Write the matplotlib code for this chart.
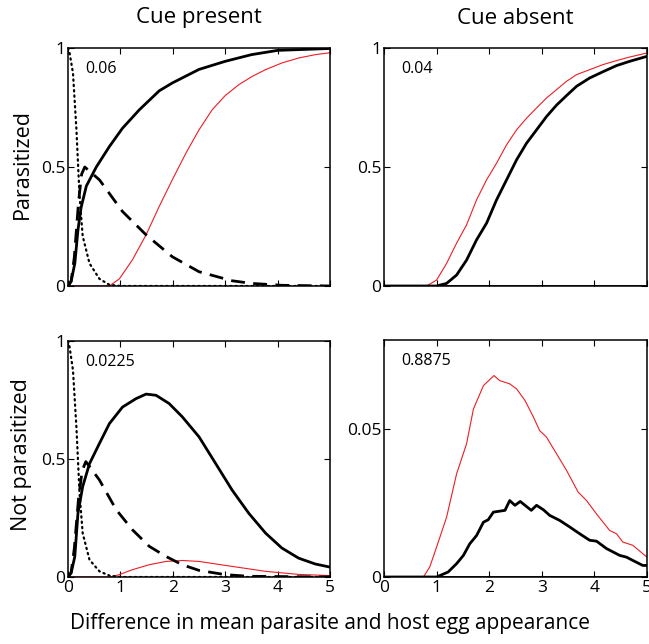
import matplotlib
matplotlib.use("Agg")
import matplotlib.pyplot as plt

plt.rcParams['font.family'] = ['Open Sans', 'DejaVu Sans']

col_titles = ["Cue present", "Cue absent"]
row_titles = ["Parasitized", "Not parasitized"]
xlabel = "Difference in mean parasite and host egg appearance"
panel_notes = ["0.06", "0.04", "0.0225", "0.8875"]

# ---- Cue present, Parasitized ----
tl_dot_x = [0, 0.03, 0.095, 0.16, 0.22, 0.28, 0.41, 0.6, 0.79, 1.0, 5.0]
tl_dot_y = [1.0, 0.98, 0.895, 0.66, 0.38, 0.21, 0.095, 0.03, 0.005, 0.0, 0.0]
tl_dash_x = [0, 0.06, 0.12, 0.2, 0.26, 0.32, 0.6, 1.04, 1.49, 1.99, 2.5, 3.13, 3.5, 4.08, 5.0]
tl_dash_y = [0, 0.02, 0.12, 0.35, 0.47, 0.50, 0.446, 0.313, 0.215, 0.123, 0.060, 0.022, 0.011, 0.003, 0.0]
tl_solid_x = [0, 0.06, 0.13, 0.19, 0.25, 0.35, 0.54, 0.79, 1.04, 1.36, 1.74, 1.99, 2.5, 3.0, 3.5, 4.0, 5.0]
tl_solid_y = [0, 0.02, 0.095, 0.235, 0.33, 0.42, 0.50, 0.586, 0.663, 0.74, 0.82, 0.853, 0.91, 0.944, 0.972, 0.99, 0.998]
tl_red_x = [0, 0.79, 0.98, 1.23, 1.49, 1.74, 1.99, 2.25, 2.5, 2.75, 3.0, 3.26, 3.51, 3.77, 4.08, 4.4, 4.72, 5.0]
tl_red_y = [0, 0.0, 0.03, 0.11, 0.215, 0.334, 0.446, 0.558, 0.656, 0.74, 0.80, 0.846, 0.88, 0.909, 0.937, 0.958, 0.972, 0.98]

# ---- Cue absent, Parasitized ----
tr_red_x = [0, 0.81, 1.0, 1.19, 1.38, 1.57, 1.76, 1.95, 2.14, 2.33, 2.52, 2.71, 2.9, 3.09, 3.28, 3.47, 3.66, 3.91, 4.16, 4.42, 4.67, 5.0]
tr_red_y = [0, 0.0, 0.025, 0.095, 0.18, 0.257, 0.362, 0.446, 0.516, 0.593, 0.656, 0.705, 0.748, 0.79, 0.825, 0.86, 0.888, 0.909, 0.93, 0.947, 0.962, 0.979]
tr_solid_x = [0, 1.0, 1.19, 1.38, 1.57, 1.76, 1.95, 2.14, 2.33, 2.52, 2.71, 2.9, 3.09, 3.28, 3.47, 3.66, 3.91, 4.16, 4.42, 4.67, 5.0]
tr_solid_y = [0, 0.0, 0.011, 0.046, 0.109, 0.194, 0.264, 0.362, 0.446, 0.53, 0.60, 0.656, 0.712, 0.76, 0.80, 0.839, 0.874, 0.90, 0.926, 0.944, 0.965]

# ---- Cue present, Not parasitized ----
bl_dot_x = [0, 0.03, 0.095, 0.16, 0.22, 0.28, 0.41, 0.6, 0.79, 1.0, 5.0]
bl_dot_y = [1.0, 0.975, 0.876, 0.637, 0.355, 0.186, 0.073, 0.024, 0.006, 0.0, 0.0]
bl_dash_x = [0, 0.06, 0.12, 0.2, 0.27, 0.34, 0.6, 0.92, 1.23, 1.55, 1.87, 2.18, 2.5, 3.0, 3.45, 5.0]
bl_dash_y = [0, 0.02, 0.12, 0.33, 0.45, 0.489, 0.411, 0.285, 0.20, 0.13, 0.087, 0.052, 0.028, 0.01, 0.003, 0.0]
bl_solid_x = [0, 0.06, 0.13, 0.19, 0.28, 0.41, 0.6, 0.79, 1.04, 1.3, 1.49, 1.68, 1.93, 2.18, 2.5, 2.82, 3.13, 3.45, 3.77, 4.08, 4.4, 4.72, 5.0]
bl_solid_y = [0, 0.017, 0.087, 0.27, 0.383, 0.48, 0.566, 0.65, 0.72, 0.756, 0.775, 0.77, 0.735, 0.679, 0.594, 0.48, 0.369, 0.27, 0.186, 0.123, 0.08, 0.055, 0.042]
bl_red_x = [0, 0.8, 0.98, 1.23, 1.55, 1.87, 2.18, 2.5, 3.13, 3.77, 4.4, 5.0]
bl_red_y = [0, 0.0, 0.01, 0.031, 0.052, 0.066, 0.07, 0.066, 0.045, 0.024, 0.011, 0.006]

# ---- Cue absent, Not parasitized ----
br_red_x = [0, 0.75, 0.87, 1.0, 1.19, 1.38, 1.57, 1.70, 1.89, 2.09, 2.2, 2.39, 2.52, 2.68, 2.84, 2.96, 3.09, 3.28, 3.47, 3.69, 3.85, 4.04, 4.29, 4.42, 4.54, 4.73, 5.0]
br_red_y = [0, 0.0, 0.0034, 0.0101, 0.0202, 0.0348, 0.045, 0.0567, 0.0646, 0.068, 0.0663, 0.0652, 0.0635, 0.0596, 0.054, 0.0494, 0.0472, 0.0416, 0.036, 0.0287, 0.0258, 0.0213, 0.0157, 0.0146, 0.0118, 0.0107, 0.0067]
br_solid_x = [0, 1.0, 1.22, 1.38, 1.51, 1.63, 1.76, 1.89, 1.98, 2.08, 2.3, 2.39, 2.49, 2.59, 2.8, 2.9, 3.03, 3.15, 3.34, 3.53, 3.72, 3.91, 4.04, 4.23, 4.48, 4.61, 4.73, 4.92, 5.0]
br_solid_y = [0, 0.0, 0.0017, 0.0045, 0.0073, 0.0112, 0.014, 0.0185, 0.0193, 0.0219, 0.0225, 0.0258, 0.0242, 0.0255, 0.0225, 0.0242, 0.0227, 0.0208, 0.0191, 0.0169, 0.0146, 0.0124, 0.0121, 0.0096, 0.0073, 0.0067, 0.0056, 0.0039, 0.0039]

zero_x = [0, 5]
zero_y = [0, 0]

fig = plt.figure(figsize=(6.49, 6.44), dpi=100)
W, H = 649, 644
def rect(x0, y0, x1, y1):
    return [x0 / W, 1 - y1 / H, (x1 - x0) / W, (y1 - y0) / H]

ax_tl = fig.add_axes(rect(68, 48, 330, 286))
ax_tr = fig.add_axes(rect(384, 48, 647, 286))
ax_bl = fig.add_axes(rect(68, 341, 330, 577))
ax_br = fig.add_axes(rect(384, 340, 647, 577))
axes = [ax_tl, ax_tr, ax_bl, ax_br]

RED = '#ee1c24'
thick = dict(color='black', lw=2.0, solid_joinstyle='round')
thin_red = dict(color=RED, lw=0.8)
dash = dict(color='black', lw=2.0, dashes=(5, 3))
dot = dict(color='black', lw=1.6, dashes=(0.6, 1.8), dash_capstyle='round')

# top-left
ax_tl.plot(zero_x, zero_y, color=RED, lw=0.8)
ax_tl.plot(tl_red_x, tl_red_y, **thin_red)
ax_tl.plot(tl_dash_x, tl_dash_y, **dash)
ax_tl.plot(tl_dot_x, tl_dot_y, **dot)
ax_tl.plot(tl_solid_x, tl_solid_y, **thick)

# top-right
ax_tr.plot(zero_x, zero_y, color='black', lw=2.0)
ax_tr.plot(tr_red_x, tr_red_y, **thin_red)
ax_tr.plot(tr_solid_x, tr_solid_y, **thick)

# bottom-left
ax_bl.plot(zero_x, zero_y, color=RED, lw=0.8)
ax_bl.plot(bl_red_x, bl_red_y, **thin_red)
ax_bl.plot(bl_dash_x, bl_dash_y, **dash)
ax_bl.plot(bl_dot_x, bl_dot_y, **dot)
ax_bl.plot(bl_solid_x, bl_solid_y, **thick)

# bottom-right
ax_br.plot(zero_x, zero_y, color='black', lw=2.0)
ax_br.plot(br_red_x, br_red_y, **thin_red)
ax_br.plot(br_solid_x, br_solid_y, **thick)

for i, ax in enumerate(axes):
    ax.set_xlim(0, 5)
    ax.set_xticks([0, 1, 2, 3, 4, 5])
    ax.tick_params(direction='in', length=4, width=0.8, top=True, right=True,
                   labelsize=12.5, pad=2)
    for s in ax.spines.values():
        s.set_linewidth(1.1)
    ax.text(0.065, 0.91, panel_notes[i], transform=ax.transAxes, fontsize=11.5,
            va='center', ha='left')

for ax in [ax_tl, ax_tr, ax_bl]:
    ax.set_ylim(0, 1)
    ax.set_yticks([0, 0.5, 1])
    ax.set_yticklabels(['0', '0.5', '1'])
ax_br.set_ylim(0, 0.08)
ax_br.set_yticks([0, 0.05])
ax_br.set_yticklabels(['0', '0.05'])

for ax in [ax_tl, ax_tr]:
    ax.set_xticklabels([])
for ax in [ax_bl, ax_br]:
    ax.set_xticklabels(['0', '1', '2', '3', '4', '5'])

fig.text(199 / W, 1 - 18 / H, col_titles[0], fontsize=16, ha='center', va='center')
fig.text(515 / W, 1 - 18 / H, col_titles[1], fontsize=16, ha='center', va='center')
fig.text(22 / W, 1 - 164 / H, row_titles[0], fontsize=15.5, ha='center', va='center', rotation=90)
fig.text(22 / W, 1 - 455 / H, row_titles[1], fontsize=15.5, ha='center', va='center', rotation=90)
fig.text(330 / W, 1 - 624 / H, xlabel, fontsize=15, ha='center', va='center')

fig.savefig('out.png', dpi=100)
